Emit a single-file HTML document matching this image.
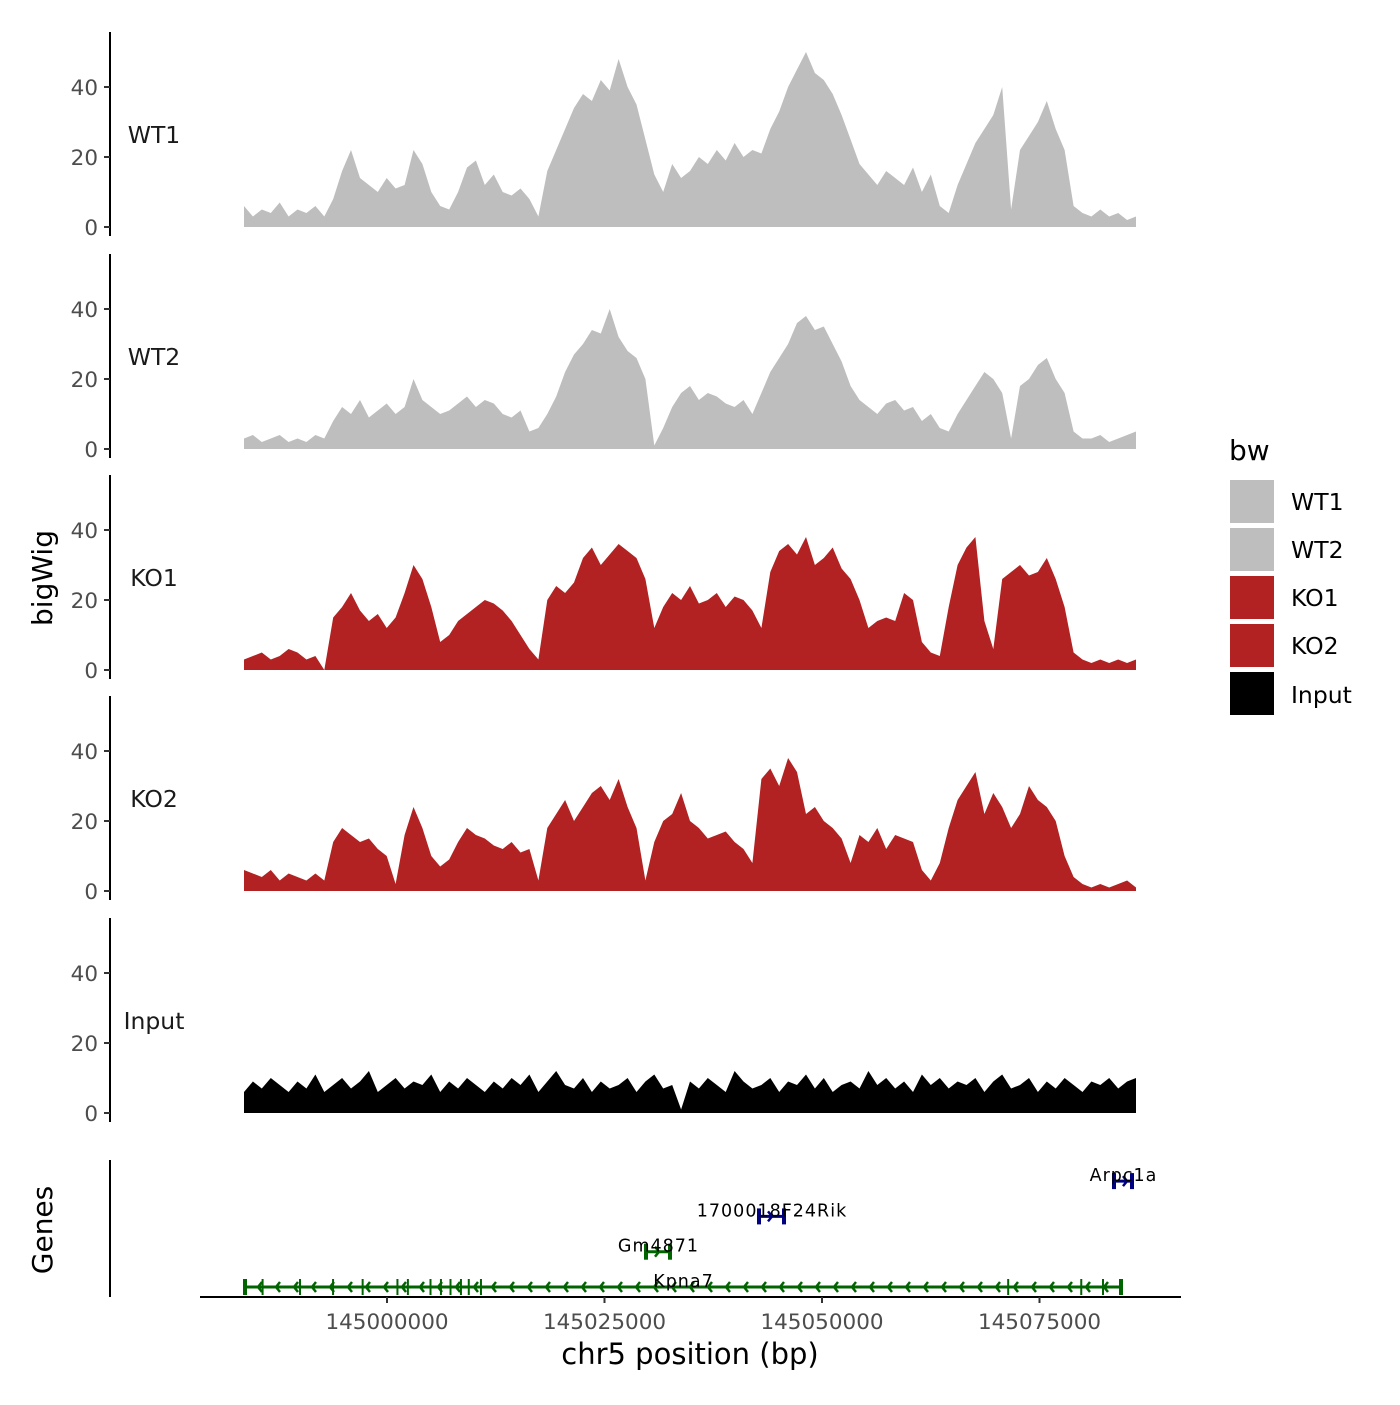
<!DOCTYPE html>
<html><head><meta charset="utf-8"><style>
html,body{margin:0;padding:0;background:#fff}
svg text{font-family:"DejaVu Sans","Liberation Sans",sans-serif}
</style></head><body>
<svg id="c" width="1400" height="1400" viewBox="0 0 1400 1400" xmlns="http://www.w3.org/2000/svg"></svg>
<script>
const trackNames=["WT1","WT2","KO1","KO2","Input"];
const trackColors=["#bebebe","#bebebe","#b22222","#b22222","#000000"];
const wt1=[6,3,5,4,7,3,5,4,6,3, 8,16,22,14,12,10,14,11,12,22, 18,10,6,5,10,17,19,12,15,10, 9,11,8,3,16,22,28,34,38,36, 42,39,48,40,35,25,15,10,18,14, 16,20,18,22,19,24,20,22,21,28, 33,40,45,50,44,42,38,32,25,18, 15,12,16,14,12,17,10,15,6,4, 12,18,24,28,32,40,5,22,26,30, 36,28,22,6,4,3,5,3,4,2, 3];
const wt2=[3,4,2,3,4,2,3,2,4,3, 8,12,10,14,9,11,13,10,12,20, 14,12,10,11,13,15,12,14,13,10, 9,11,5,6,10,15,22,27,30,34, 33,40,32,28,26,20,1,6,12,16, 18,14,16,15,13,12,14,10,16,22, 26,30,36,38,34,35,30,25,18,14, 12,10,13,14,11,12,8,10,6,5, 10,14,18,22,20,16,3,18,20,24, 26,20,16,5,3,3,4,2,3,4, 5];
const ko1=[3,4,5,3,4,6,5,3,4,0, 15,18,22,17,14,16,12,15,22,30, 26,18,8,10,14,16,18,20,19,17, 14,10,6,3,20,24,22,25,32,35, 30,33,36,34,32,26,12,18,22,20, 24,19,20,22,18,21,20,17,12,28, 34,36,33,38,30,32,35,29,26,20, 12,14,15,14,22,20,8,5,4,18, 30,35,38,14,6,26,28,30,27,28, 32,26,18,5,3,2,3,2,3,2, 3];
const ko2=[6,5,4,6,3,5,4,3,5,3, 14,18,16,14,15,12,10,2,16,24, 18,10,7,9,14,18,16,15,13,12, 14,11,12,3,18,22,26,20,24,28, 30,26,32,24,18,3,14,20,22,28, 20,18,15,16,17,14,12,8,32,35, 30,38,34,22,24,20,18,15,8,16, 14,18,12,16,15,14,6,3,8,18, 26,30,34,22,28,24,18,22,30,26, 24,20,10,4,2,1,2,1,2,3, 1];
const input=[6,9,7,10,8,6,9,7,11,6, 8,10,7,9,12,6,8,10,7,9, 8,11,6,9,7,10,8,6,9,7, 10,8,11,6,9,12,8,7,10,6, 9,7,8,10,6,9,11,7,8,1, 9,7,10,8,6,12,9,7,8,10, 6,9,8,11,7,10,6,8,9,7, 12,8,10,7,9,6,11,8,10,7, 9,8,10,6,9,11,7,8,10,6, 9,7,10,8,6,9,8,10,7,9, 10];
const trackData=[wt1,wt2,ko1,ko2,input];
const yTicks=[0,20,40];
const xTicks=[145000000,145025000,145050000,145075000];
const geneNames=["Kpna7","Gm4871","1700018F24Rik","Arpc1a"];
const geneStart=[144983563,145029655,145042644,145083448];
const geneEnd=[145084598,145032759,145045862,145085862];
const geneRow=[0,1,2,3];
const geneStrand=[-1,1,1,1];
const geneColors=["#006400","#006400","#000080","#000080"];
const kpnaExons=[144983700,144985700,144990000,144993800,144997200,145001200,145002400,145005000,145006200,145007300,145008500,145009400,145010800,145071400,145079800,145082300];
const dataStart=144983563, dataEnd=145086092;

const svg=document.getElementById('c');
const NS="http://www.w3.org/2000/svg";
function mk(t,a,p){const e=document.createElementNS(NS,t);for(const k in a)e.setAttribute(k,a[k]);(p||svg).appendChild(e);return e;}
function txt(s,a,p){const e=mk('text',a,p);e.textContent=s;return e;}
const xScale=v=>387+(v-145000000)/25000*217.5;
const base=[227,449,670,891,1113];
const yScale=(i,v)=>base[i]-v*3.5;

trackData.forEach((d,i)=>{
  const g=mk('g',{});
  
  
  const n=d.length;
  let pts=xScale(dataStart)+','+base[i]+' ';
  d.forEach((v,j)=>{const gx=dataStart+(dataEnd-dataStart)*j/(n-1);pts+=xScale(gx).toFixed(1)+','+yScale(i,v).toFixed(1)+' ';});
  pts+=xScale(dataEnd)+','+base[i];
  const a=mk('polygon',{points:pts,fill:trackColors[i]},g);
  
  
  const ax=mk('line',{x1:110,x2:110,y1:base[i]-195,y2:base[i]+9,stroke:'#000','stroke-width':2},g);
  
  
  yTicks.forEach(t=>{
    const y=yScale(i,t);
    mk('line',{x1:104,x2:110,y1:y,y2:y,stroke:'#333','stroke-width':2},g);
    const tl=txt(String(t),{x:98,y:y+8,'font-size':21.5,fill:'#4d4d4d','text-anchor':'end'},g);
    
    
  });
  const lb=txt(trackNames[i],{x:154,y:base[i]-84,'font-size':23.5,fill:'#1a1a1a','text-anchor':'middle'},g);
  
  
});

const gg=mk('g',{});


const gax=mk('line',{x1:110,x2:110,y1:1160,y2:1297,stroke:'#000','stroke-width':2},gg);


const rowY=r=>1287-r*35.3;
geneNames.forEach((nm,i)=>{
  const y=rowY(geneRow[i]), x1=xScale(geneStart[i]), x2=xScale(geneEnd[i]), c=geneColors[i];
  const g=mk('g',{},gg);
  
  
  mk('line',{x1:x1,x2:x2,y1:y,y2:y,stroke:c,'stroke-width':3},g);
  const s=geneStrand[i];
  for(let x=x1+14;x<x2-4;x+=18){
    mk('polyline',{points:(x-4*s)+','+(y-5)+' '+x+','+y+' '+(x-4*s)+','+(y+5),fill:'none',stroke:c,'stroke-width':2.5},g);
  }
  mk('rect',{x:x1-1,y:y-8,width:4,height:16,fill:c},g);
  mk('rect',{x:x2-4,y:y-8,width:4,height:16,fill:c},g);
  const t=txt(nm,{x:(x1+x2)/2,y:y,'font-size':17.5,fill:'#000','text-anchor':'middle','letter-spacing':1},g);
  
  
});
kpnaExons.forEach(e=>{const x=xScale(e);mk('line',{x1:x,x2:x,y1:1279,y2:1295,stroke:'#006400','stroke-width':2},gg);});

const xa=mk('line',{x1:200,x2:1181,y1:1297,y2:1297,stroke:'#000','stroke-width':2});


xTicks.forEach(t=>{
  const x=xScale(t);
  mk('line',{x1:x,x2:x,y1:1297,y2:1303,stroke:'#333','stroke-width':2});
  const l=txt(String(t),{x:x,y:1329,'font-size':21.5,fill:'#4d4d4d','text-anchor':'middle'});
  
  
});
</script>
<div style="position:absolute;left:0;top:0;width:1400px;height:1400px;pointer-events:none">
<svg width="1400" height="1400" xmlns="http://www.w3.org/2000/svg">
<text x="690" y="1364" font-size="29" text-anchor="middle" fill="#000">chr5 position (bp)</text>
<text transform="translate(52,578) rotate(-90)" font-size="28" text-anchor="middle" fill="#000">bigWig</text>
<text transform="translate(52,1230) rotate(-90)" font-size="28" text-anchor="middle" fill="#000">Genes</text>
<g>
<text x="1229" y="460" font-size="28" fill="#000">bw</text>
<rect x="1230" y="480" width="44" height="43" fill="#bebebe"/>
<rect x="1230" y="528" width="44" height="43" fill="#bebebe"/>
<rect x="1230" y="576" width="44" height="43" fill="#b22222"/>
<rect x="1230" y="624" width="44" height="43" fill="#b22222"/>
<rect x="1230" y="672" width="44" height="43" fill="#000"/>
<text x="1291" y="510" font-size="23.5">WT1</text>
<text x="1291" y="558" font-size="23.5">WT2</text>
<text x="1291" y="606" font-size="23.5">KO1</text>
<text x="1291" y="654" font-size="23.5">KO2</text>
<text x="1291" y="703" font-size="23.5">Input</text>
</g>
</svg></div>
</body></html>
